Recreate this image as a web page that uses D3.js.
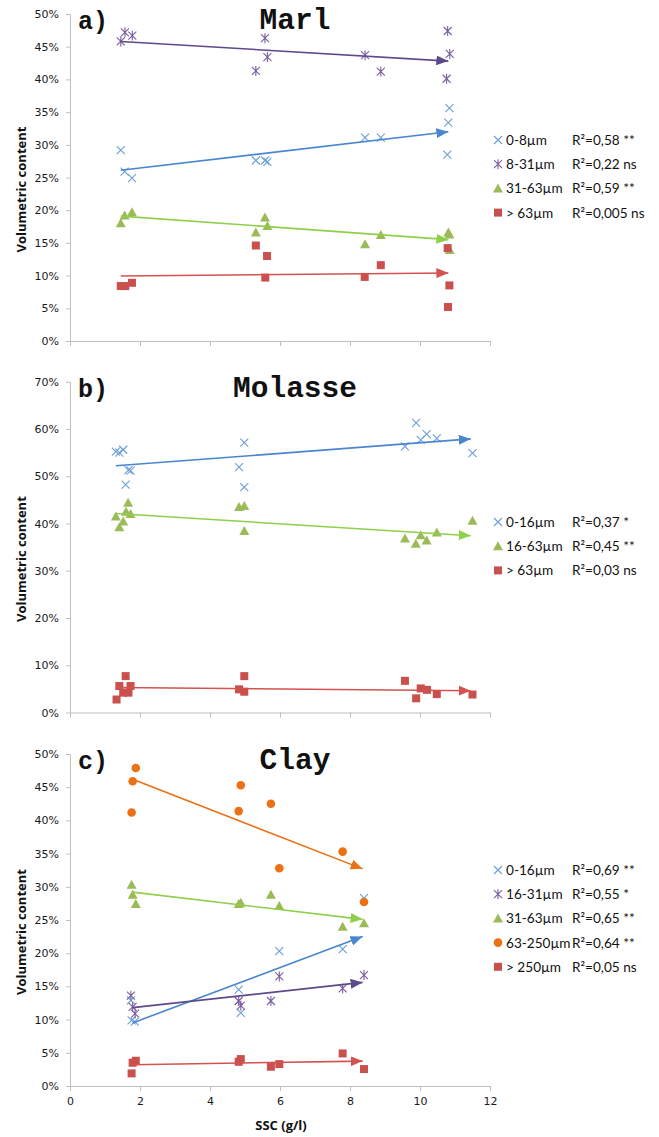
<!DOCTYPE html>
<html>
<head>
<meta charset="utf-8">
<title>Volumetric content vs SSC</title>
<style>
  body { margin: 0; background: #fff; }
  .tick text { font-family: "DejaVu Sans", sans-serif; font-size: 11px; fill: #1a1a1a; }
  .domain, .tick line { stroke: #bfbfbf; }
  .ytitle, .xtitle { font-family: "Open Sans", sans-serif; font-weight: bold; font-size: 13px; fill: #111; }
  .plabel, .ptitle { font-family: "Liberation Mono", monospace; font-weight: bold; fill: #111; }
  .leg { font-family: "Lato", sans-serif; font-size: 13.6px; fill: #111; }
</style>
<script src="https://d3js.org/d3.v7.min.js"></script>
</head>
<body>
<script>
// ---- data: [SSC g/l, volumetric %] ----
// a) Marl
var marl_0_8   = [[1.45,29.2],[1.56,25.9],[1.77,24.9],[5.31,27.6],[5.57,27.6],[5.64,27.4],[8.43,31.1],[8.88,31.1],[10.84,35.6],[10.81,33.4],[10.78,28.5]];
var marl_8_31  = [[1.45,45.8],[1.57,47.2],[1.78,46.7],[5.31,41.3],[5.57,46.3],[5.64,43.4],[8.43,43.7],[8.88,41.2],[10.79,47.4],[10.85,43.9],[10.76,40.1]];
var marl_31_63 = [[1.45,18.0],[1.56,19.2],[1.77,19.7],[5.31,16.6],[5.57,18.9],[5.64,17.6],[8.43,14.8],[8.88,16.2],[10.81,16.6],[10.84,16.3],[10.85,13.9]];
var marl_63    = [[1.45,8.4],[1.58,8.4],[1.77,8.9],[5.31,14.6],[5.63,13.0],[5.58,9.7],[8.42,9.8],[8.88,11.6],[10.79,14.2],[10.84,8.5],[10.8,5.2]];
var marl_trend = { "0_8": [[1.45,26.1],[10.81,32.0]], "8_31": [[1.45,45.8],[10.81,42.8]], "31_63": [[1.45,19.1],[10.81,15.5]], "63": [[1.45,9.95],[10.81,10.4]] };

// b) Molasse
var mol_0_16  = [[1.31,55.2],[1.41,55.0],[1.52,55.6],[1.59,48.2],[1.67,51.3],[1.73,51.2],[4.83,51.9],[4.98,57.1],[4.98,47.7],[9.57,56.3],[9.89,61.3],[10.02,57.7],[10.19,58.9],[10.48,58.0],[11.5,54.9]];
var mol_16_63 = [[1.31,41.5],[1.41,39.2],[1.52,40.4],[1.6,42.5],[1.66,44.4],[1.73,42.0],[4.83,43.5],[4.98,43.7],[4.98,38.4],[9.57,36.8],[9.88,35.7],[10.02,37.5],[10.19,36.4],[10.48,38.1],[11.5,40.6]];
var mol_63    = [[1.33,2.75],[1.41,5.6],[1.59,7.7],[1.52,4.2],[1.67,4.2],[1.73,5.6],[4.83,4.9],[4.98,7.7],[4.98,4.4],[9.57,6.7],[9.89,3.0],[10.02,5.1],[10.2,4.8],[10.48,3.9],[11.5,3.8]];
var mol_trend = { "0_16": [[1.31,52.2],[11.45,57.9]], "16_63": [[1.31,42.1],[11.45,37.4]], "63": [[1.31,5.3],[11.45,4.6]] };

// c) Clay
var clay_0_16    = [[1.74,12.9],[1.76,9.9],[1.85,9.7],[4.82,14.5],[4.88,11.0],[5.98,20.3],[7.79,20.6],[8.4,28.3]];
var clay_16_31   = [[1.74,13.6],[1.79,11.9],[1.86,10.9],[4.82,12.8],[4.88,12.1],[5.74,12.8],[5.98,16.5],[7.79,14.7],[8.4,16.7]];
var clay_31_63   = [[1.76,30.3],[1.79,28.8],[1.88,27.4],[4.82,27.4],[4.88,27.6],[5.74,28.8],[5.98,27.1],[7.79,24.0],[8.4,24.5]];
var clay_63_250  = [[1.79,45.9],[1.88,47.9],[1.76,41.2],[4.82,41.4],[4.88,45.3],[5.74,42.5],[5.98,32.8],[7.79,35.3],[8.4,27.7]];
var clay_250     = [[1.76,1.9],[1.79,3.5],[1.88,3.8],[4.82,3.65],[4.88,4.05],[5.74,2.9],[5.98,3.3],[7.79,4.9],[8.4,2.55]];
var clay_trend = { "0_16": [[1.79,9.5],[8.36,22.5]], "16_31": [[1.79,11.8],[8.36,15.6]], "31_63": [[1.79,29.2],[8.36,25.1]], "63_250": [[1.79,46.2],[8.36,32.7]], "250": [[1.79,3.2],[8.36,3.75]] };

var xTicks = [0, 2, 4, 6, 8, 10, 12];

// styles per marker type
var col = {
  blue:   { mark: "#6a9fd8", line: "#4a86d0" },
  purple: { mark: "#7b5ea0", line: "#5e4a8a" },
  green:  { mark: "#9bbb59", line: "#8fcf4c" },
  red:    { mark: "#c9504d", line: "#d4524f" },
  orange: { mark: "#ec7014", line: "#ec7014" }
};

var panels = [
  { label: "a)", title: "Marl", top: 14, bottom: 341, ymax: 50, ystep: 5, xlabels: false, legendY: 145,
    series: [
      { name: "0-8\u00b5m",   r2: "R\u00b2=0,58 **",  shape: "x",   c: col.blue,   data: marl_0_8,   trend: marl_trend["0_8"] },
      { name: "8-31\u00b5m",  r2: "R\u00b2=0,22 ns",  shape: "ast", c: col.purple, data: marl_8_31,  trend: marl_trend["8_31"] },
      { name: "31-63\u00b5m", r2: "R\u00b2=0,59 **",  shape: "tri", c: col.green,  data: marl_31_63, trend: marl_trend["31_63"] },
      { name: "> 63\u00b5m",  r2: "R\u00b2=0,005 ns", shape: "sq",  c: col.red,    data: marl_63,    trend: marl_trend["63"] }
    ] },
  { label: "b)", title: "Molasse", top: 381.7, bottom: 712.5, ymax: 70, ystep: 10, xlabels: false, legendY: 527,
    series: [
      { name: "0-16\u00b5m",  r2: "R\u00b2=0,37 *",  shape: "x",   c: col.blue,  data: mol_0_16,  trend: mol_trend["0_16"] },
      { name: "16-63\u00b5m", r2: "R\u00b2=0,45 **", shape: "tri", c: col.green, data: mol_16_63, trend: mol_trend["16_63"] },
      { name: "> 63\u00b5m",  r2: "R\u00b2=0,03 ns", shape: "sq",  c: col.red,   data: mol_63,    trend: mol_trend["63"] }
    ] },
  { label: "c)", title: "Clay", top: 754, bottom: 1086, ymax: 50, ystep: 5, xlabels: true, legendY: 875,
    series: [
      { name: "0-16\u00b5m",   r2: "R\u00b2=0,69 **", shape: "x",   c: col.blue,   data: clay_0_16,   trend: clay_trend["0_16"] },
      { name: "16-31\u00b5m",  r2: "R\u00b2=0,55 *",  shape: "ast", c: col.purple, data: clay_16_31,  trend: clay_trend["16_31"] },
      { name: "31-63\u00b5m",  r2: "R\u00b2=0,65 **", shape: "tri", c: col.green,  data: clay_31_63,  trend: clay_trend["31_63"] },
      { name: "63-250\u00b5m", r2: "R\u00b2=0,64 **", shape: "dot", c: col.orange, data: clay_63_250, trend: clay_trend["63_250"] },
      { name: "> 250\u00b5m",  r2: "R\u00b2=0,05 ns", shape: "sq",  c: col.red,    data: clay_250,    trend: clay_trend["250"] }
    ] }
];

var width = 659, height = 1137;
var svg = d3.select("body").append("svg")
  .attr("width", width).attr("height", height)
  .style("background", "#fff");

var defs = svg.append("defs");

var x = d3.scaleLinear().domain([0, 12]).range([70, 490]);

// draw one marker symbol centred on (cx, cy)
function drawMark(g, shape, c, cx, cy) {
  var s = 4;
  if (shape === "x" || shape === "ast") {
    g.append("path")
      .attr("d", "M" + (cx - s) + "," + (cy - s) + "L" + (cx + s) + "," + (cy + s) +
                 "M" + (cx - s) + "," + (cy + s) + "L" + (cx + s) + "," + (cy - s) +
                 (shape === "ast" ? "M" + cx + "," + (cy - s - 1) + "L" + cx + "," + (cy + s + 1) : ""))
      .attr("stroke", c.mark).attr("stroke-width", 1.1).attr("fill", "none");
  } else if (shape === "tri") {
    g.append("path")
      .attr("d", "M" + cx + "," + (cy - 5) + "L" + (cx + 5) + "," + (cy + 4) + "L" + (cx - 5) + "," + (cy + 4) + "Z")
      .attr("fill", c.mark);
  } else if (shape === "sq") {
    g.append("rect").attr("x", cx - 4).attr("y", cy - 4).attr("width", 8).attr("height", 8).attr("fill", c.mark);
  } else if (shape === "dot") {
    g.append("circle").attr("cx", cx).attr("cy", cy).attr("r", 4.3).attr("fill", c.mark);
  }
}

panels.forEach(function(p, pi) {
  var y = d3.scaleLinear().domain([0, p.ymax]).range([p.bottom, p.top]);
  var g = svg.append("g");

  // axes
  g.append("g")
    .attr("transform", "translate(70,0)")
    .call(d3.axisLeft(y).tickValues(d3.range(0, p.ymax + 0.1, p.ystep))
      .tickFormat(function(d) { return d + "%"; })
      .tickSize(4).tickSizeOuter(0).tickPadding(7));

  var xa = g.append("g")
    .attr("transform", "translate(0," + p.bottom + ")")
    .call(d3.axisBottom(x).tickValues(xTicks).tickSize(5).tickSizeOuter(0).tickPadding(6));
  if (!p.xlabels) xa.selectAll("text").remove();

  // axis title
  g.append("text").attr("class", "ytitle")
    .attr("transform", "translate(26," + ((p.top + p.bottom) / 2 + 12) + ") rotate(-90)")
    .attr("text-anchor", "middle")
    .text("Volumetric content");

  // panel label + title
  g.append("text").attr("class", "plabel").attr("x", 78).attr("y", p.top + 15)
    .style("font-size", "25px").text(p.label);
  g.append("text").attr("class", "ptitle").attr("x", 295).attr("y", p.top + 15)
    .attr("text-anchor", "middle").style("font-size", "29.5px").text(p.title);

  // markers
  p.series.forEach(function(s) {
    var mg = g.append("g");
    s.data.forEach(function(d) { drawMark(mg, s.shape, s.c, x(d[0]), y(d[1])); });
  });

  // trendlines with arrowheads
  p.series.forEach(function(s, si) {
    var id = "arr" + pi + "_" + si;
    defs.append("marker").attr("id", id)
      .attr("viewBox", "0 0 12 10").attr("refX", 12).attr("refY", 5)
      .attr("markerWidth", 12).attr("markerHeight", 10)
      .attr("markerUnits", "userSpaceOnUse").attr("orient", "auto")
      .append("path").attr("d", "M0,0L12,5L0,10Z").attr("fill", s.c.line);
    g.append("line")
      .attr("x1", x(s.trend[0][0])).attr("y1", y(s.trend[0][1]))
      .attr("x2", x(s.trend[1][0])).attr("y2", y(s.trend[1][1]))
      .attr("stroke", s.c.line).attr("stroke-width", 1.6)
      .attr("marker-end", "url(#" + id + ")");
  });

  // legend
  var lg = g.append("g");
  p.series.forEach(function(s, i) {
    var ly = p.legendY + i * 24.2;
    drawMark(lg, s.shape, s.c, 498, ly - 5);
    lg.append("text").attr("class", "leg").attr("x", 506).attr("y", ly).text(s.name);
    lg.append("text").attr("class", "leg").attr("x", 572).attr("y", ly).text(s.r2);
  });
});

// x axis title under the last panel
svg.append("text").attr("class", "xtitle")
  .attr("x", 281).attr("y", 1130).attr("text-anchor", "middle")
  .text("SSC (g/l)");
</script>
</body>
</html>
